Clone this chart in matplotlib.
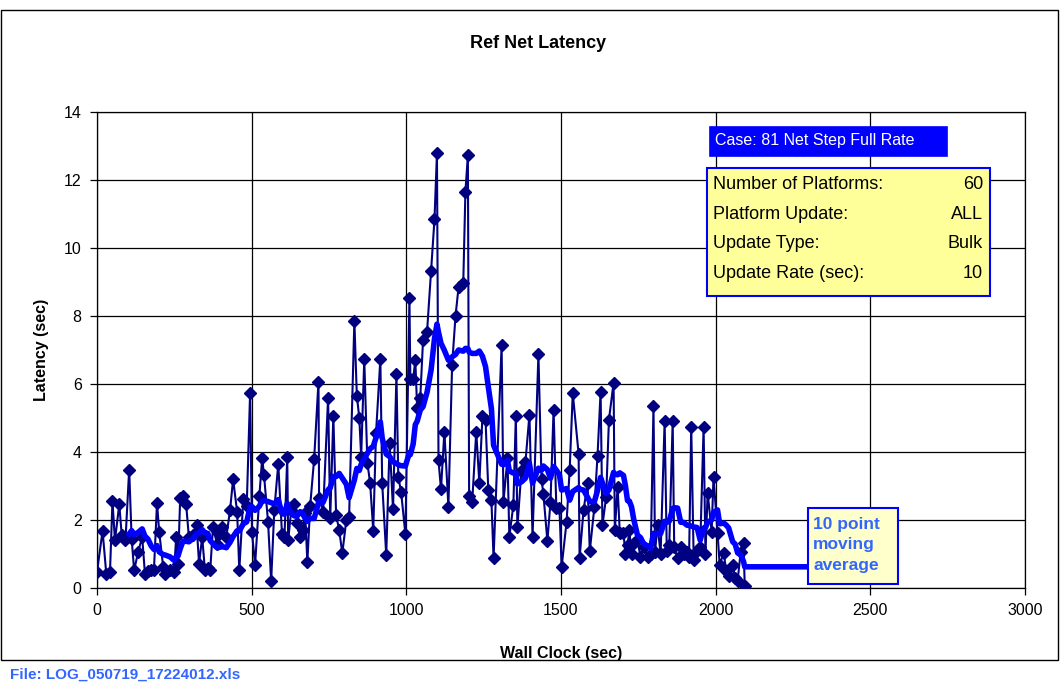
import matplotlib
matplotlib.use("Agg")
import matplotlib.pyplot as plt
import numpy as np
import pandas as pd
from matplotlib.patches import Rectangle

plt.rcParams["font.family"] = ["Liberation Sans", "DejaVu Sans"]

# wall clock (sec) and measured latency (sec) for each sample
wall_clock = [
    0, 18, 30, 42, 50, 58, 72, 80, 92, 104, 112, 120, 133, 146, 155, 165, 175, 184, 194, 201,
    214, 220, 236, 249, 256, 262, 269, 278, 288, 297, 310, 322, 330, 340, 349, 358, 366, 375, 388, 396,
    404, 418, 430, 440, 453, 460, 473, 484, 495, 501, 511, 525, 534, 540, 553, 563, 573, 586, 598, 606,
    615, 618, 628, 638, 647, 657, 665, 673, 680, 689, 702, 716, 718, 731, 747, 754, 764, 773, 783, 793,
    806, 815, 832, 840, 848, 854, 864, 874, 883, 893, 902, 916, 922, 935, 946, 957, 968, 974, 983, 997,
    1010, 1013, 1022, 1029, 1035, 1045, 1054, 1067, 1080, 1091, 1099, 1104, 1112, 1123, 1136, 1148, 1159, 1169, 1184, 1191,
    1199, 1203, 1213, 1226, 1236, 1246, 1256, 1265, 1275, 1282, 1308, 1314, 1327, 1333, 1346, 1354, 1359, 1372, 1385, 1398,
    1408, 1427, 1437, 1443, 1456, 1466, 1476, 1485, 1495, 1502, 1518, 1528, 1538, 1557, 1560, 1573, 1586, 1593, 1608, 1618,
    1628, 1634, 1646, 1655, 1670, 1674, 1683, 1690, 1702, 1708, 1715, 1721, 1728, 1735, 1747, 1757, 1767, 1780, 1790, 1799,
    1804, 1812, 1822, 1835, 1842, 1850, 1861, 1866, 1877, 1887, 1897, 1907, 1914, 1921, 1929, 1940, 1950, 1961, 1967, 1974,
    1987, 1993, 2006, 2013, 2026, 2034, 2042, 2055, 2063, 2071, 2081, 2090, 2094,
]
latency = [
    0.47, 1.68, 0.42, 0.47, 2.56, 1.40, 2.46, 1.55, 1.40, 3.48, 1.45, 0.52, 1.06, 1.50, 0.42, 0.50, 0.52, 0.52, 2.50, 1.65,
    0.62, 0.42, 0.52, 0.47, 1.50, 0.72, 2.66, 2.70, 2.48, 1.50, 1.55, 1.84, 0.72, 1.50, 0.52, 0.60, 0.52, 1.80, 1.30, 1.60,
    1.80, 1.50, 2.28, 3.20, 2.24, 0.52, 2.63, 2.40, 5.75, 1.65, 0.67, 2.72, 3.83, 3.31, 1.94, 0.20, 2.28, 3.65, 1.60, 1.50,
    3.85, 1.40, 2.30, 2.48, 1.90, 1.50, 1.70, 2.20, 0.76, 2.40, 3.80, 6.07, 2.64, 2.25, 5.58, 2.05, 5.06, 2.15, 1.70, 1.02,
    2.00, 2.10, 7.85, 5.65, 5.00, 3.86, 6.73, 3.69, 3.08, 1.69, 4.55, 6.73, 3.08, 0.97, 4.27, 2.31, 6.28, 3.27, 2.83, 1.58,
    8.52, 6.14, 6.14, 6.70, 5.28, 5.58, 7.29, 7.54, 9.32, 10.84, 12.78, 3.76, 2.90, 4.60, 2.39, 6.56, 8.00, 8.86, 8.96, 11.66,
    12.73, 2.70, 2.54, 4.60, 3.08, 5.05, 4.95, 2.88, 2.59, 0.87, 7.15, 2.54, 3.81, 1.51, 2.44, 5.06, 1.78, 3.45, 3.70, 5.10,
    1.50, 6.88, 3.20, 2.77, 1.38, 2.53, 5.23, 2.34, 2.36, 0.62, 1.94, 3.47, 5.73, 3.94, 0.87, 2.30, 3.08, 1.08, 2.39, 3.88,
    5.77, 1.85, 2.68, 4.95, 6.04, 1.70, 2.97, 1.63, 1.63, 1.00, 1.26, 1.70, 1.00, 1.31, 1.40, 0.92, 1.20, 0.92, 1.00, 5.35,
    1.07, 1.85, 1.00, 4.90, 1.10, 1.26, 4.90, 1.20, 0.87, 1.20, 1.00, 1.05, 0.90, 4.75, 0.82, 1.10, 1.20, 4.73, 1.00, 2.80,
    1.66, 3.27, 1.63, 0.68, 1.04, 0.50, 0.35, 0.68, 0.30, 0.22, 1.07, 1.33, 0.06,
]
ma_window = 10
ma_hold_until = 2300

case_label = "Case: 81 Net Step Full Rate"
info_rows = [
    ("Number of Platforms:", "60"),
    ("Platform Update:", "ALL"),
    ("Update Type:", "Bulk"),
    ("Update Rate (sec):", "10"),
]
file_label = "File: LOG_050719_17224012.xls"

W, H = 1061, 688


def fpos(x, y):
    # pixel position -> figure fraction
    return x / W, 1 - y / H


def add_box(fig, x0, y0, x1, y1, face, edge, lw=1.2):
    fx0, fy1 = fpos(x0, y1)
    rect = Rectangle((fx0, fy1), (x1 - x0) / W, (y1 - y0) / H, transform=fig.transFigure,
                     facecolor=face, edgecolor=edge, linewidth=lw, zorder=10)
    fig.patches.append(rect)


fig = plt.figure(figsize=(W / 100, H / 100), dpi=100)
fig.patches.append(Rectangle((1 / W, 1 - 660 / H), 1057 / W, 650 / H, transform=fig.transFigure,
                             facecolor="none", edgecolor="black", linewidth=1.0))

ax = fig.add_axes([97 / W, 1 - 588 / H, 928 / W, 476 / H])

clock = np.array(wall_clock, dtype=float)
lat = np.array(latency, dtype=float)
ma = pd.Series(lat).rolling(ma_window).mean().to_numpy()
ma_clock = np.append(clock[ma_window - 1:], ma_hold_until)
ma_vals = np.append(ma[ma_window - 1:], ma[-1])

ax.plot(clock, lat, color="#000080", linewidth=1.5, marker="D", markersize=6.5,
        markerfacecolor="#000080", markeredgecolor="#000080", zorder=3)
ax.plot(ma_clock, ma_vals, color="#0000FF", linewidth=4, zorder=4, solid_joinstyle="round")

ax.set_xlim(0, 3000)
ax.set_ylim(0, 14)
ax.set_xticks(np.arange(0, 3001, 500))
ax.set_yticks(np.arange(0, 15, 2))
ax.grid(True, color="black", linewidth=0.9)
ax.set_axisbelow(True)
for sp in ax.spines.values():
    sp.set_color("black")
    sp.set_linewidth(0.9)
ax.tick_params(axis="both", labelsize=11.5, length=5, width=0.9, direction="out", pad=6)

ax.set_xlabel("Wall Clock (sec)", fontsize=11.5, fontweight="bold", labelpad=20)
ax.set_ylabel("Latency (sec)", fontsize=11.5, fontweight="bold", labelpad=11)
fig.text(*fpos(538, 43), "Ref Net Latency", ha="center", va="center", fontsize=13, fontweight="bold")

# case banner
add_box(fig, 710, 127, 947, 156, "#0000FF", "#0000FF")
fig.text(*fpos(715, 141), case_label, ha="left", va="center", color="white", fontsize=11.5, zorder=11)

# run parameters
add_box(fig, 707, 168, 990, 296, "#FFFF99", "#0000FF", lw=1.5)
for i, (name, val) in enumerate(info_rows):
    y = 185 + i * 29.5
    fig.text(*fpos(713, y), name, ha="left", va="center", fontsize=13, zorder=11)
    fig.text(*fpos(983, y), val, ha="right", va="center", fontsize=13, zorder=11)

# moving average label
add_box(fig, 808, 508, 898, 584, "#FFFFCC", "#0000FF", lw=1.5)
fig.text(*fpos(813, 545), "10 point\nmoving\naverage", ha="left", va="center", color="#3366FF",
         fontsize=12.5, fontweight="bold", linespacing=1.45, zorder=11)

fig.text(*fpos(10, 675), file_label, ha="left", va="center", color="#3366FF", fontsize=11, fontweight="bold")

fig.savefig("out.png", dpi=100)
